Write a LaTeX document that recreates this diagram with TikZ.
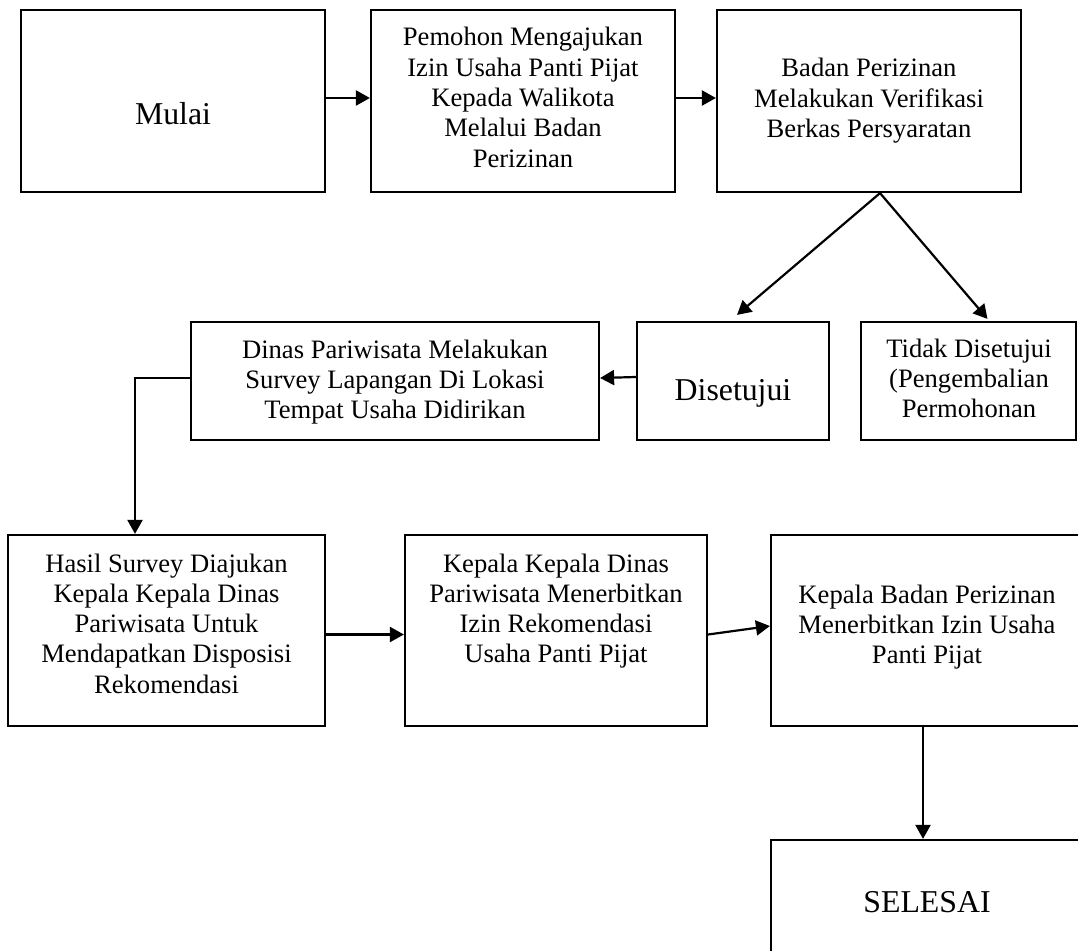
\documentclass[tikz,border=0pt]{standalone}
\usepackage{fontspec}
\setmainfont{Liberation Serif}
\usetikzlibrary{arrows.meta}
\newcommand{\fsmall}{\fontsize{26.6}{30.3}\selectfont}
\newcommand{\fbig}{\fontsize{31.8}{36}\selectfont}
\newcommand{\ml}[1]{\parbox[t]{400pt}{\centering #1}}
\begin{document}
\begin{tikzpicture}[x=1pt,y=-1pt,
  box/.style 2 args={draw, line width=2.2pt, inner sep=0pt, minimum width=#1pt, minimum height=#2pt},
  lbl/.style={anchor=base, inner sep=0pt, font=\fsmall},
  biglbl/.style={anchor=base, inner sep=0pt, font=\fbig},
  arr/.style={-{Triangle[length=14pt,width=15pt]}, line width=2.2pt}]
\useasboundingbox (0,0) rectangle (1078,950);
\clip (0,0) rectangle (1078,950);
\fill[white] (0,0) rectangle (1078,950);

% boxes
\node[box={304}{182}] (mulai) at (173,101) {};
\node[box={304}{182}] (pemohon) at (523,101) {};
\node[box={304}{182}] (badan) at (869,101) {};
\node[box={408}{118}] (dinas) at (395,381) {};
\node[box={192}{118}] (disetujui) at (733,381) {};
\node[box={215}{118}] (tidak) at (968.5,381) {};
\node[box={317}{191}] (hasil) at (166.5,630.5) {};
\node[box={302}{191}] (kk) at (556,630.5) {};
\node[box={312}{191}] (kbadan) at (927,630.5) {};
\node[box={312}{180}] (selesai) at (927,930) {};

% texts
\node[biglbl] (t1) at (173,124) {Mulai};
\node[lbl] (t2) at (523,46) {\ml{Pemohon Mengajukan\\Izin Usaha Panti Pijat\\Kepada Walikota\\Melalui Badan\\Perizinan}};
\node[lbl] (t3) at (869,77) {\ml{Badan Perizinan\\Melakukan Verifikasi\\Berkas Persyaratan}};
\node[lbl] (t4) at (395,358) {\ml{Dinas Pariwisata Melakukan\\Survey Lapangan Di Lokasi\\Tempat Usaha Didirikan}};
\node[biglbl] (t5) at (733,400) {Disetujui};
\node[lbl] (t6) at (969,357) {\ml{Tidak Disetujui\\(Pengembalian\\Permohonan}};
\node[lbl] (t7) at (166.5,572) {\ml{Hasil Survey Diajukan\\Kepala Kepala Dinas\\Pariwisata Untuk\\Mendapatkan Disposisi\\Rekomendasi}};
\node[lbl] (t8) at (556,572) {\ml{Kepala Kepala Dinas\\Pariwisata Menerbitkan\\Izin Rekomendasi\\Usaha Panti Pijat}};
\node[lbl] (t9) at (927,603) {\ml{Kepala Badan Perizinan\\Menerbitkan Izin Usaha\\Panti Pijat}};
\node[biglbl] (t10) at (927,912) {SELESAI};

% connectors
\draw[arr] ([yshift=3pt]mulai.east) -- ([yshift=3pt]pemohon.west);
\draw[arr] ([yshift=3pt]pemohon.east) -- ([yshift=3pt]badan.west);
\draw[arr] ([xshift=11pt]badan.south) -- ([xshift=4pt,yshift=6pt]disetujui.north);
\draw[arr] ([xshift=11pt]badan.south) -- ([xshift=19pt,yshift=2pt]tidak.north);
\draw[arr] ([yshift=4pt]disetujui.west) -- ([yshift=3pt]dinas.east);
\draw[arr] ([yshift=3pt]dinas.west) -| ([xshift=-31.5pt]hasil.north);
\draw[arr] ([yshift=-4pt]hasil.east) -- ([yshift=-4pt]kk.west);
\draw[arr] ([yshift=-4pt]kk.east) -- ([yshift=4.5pt]kbadan.west);
\draw[arr] ([xshift=-4pt]kbadan.south) -- ([xshift=-4pt]selesai.north);
\end{tikzpicture}
\end{document}
